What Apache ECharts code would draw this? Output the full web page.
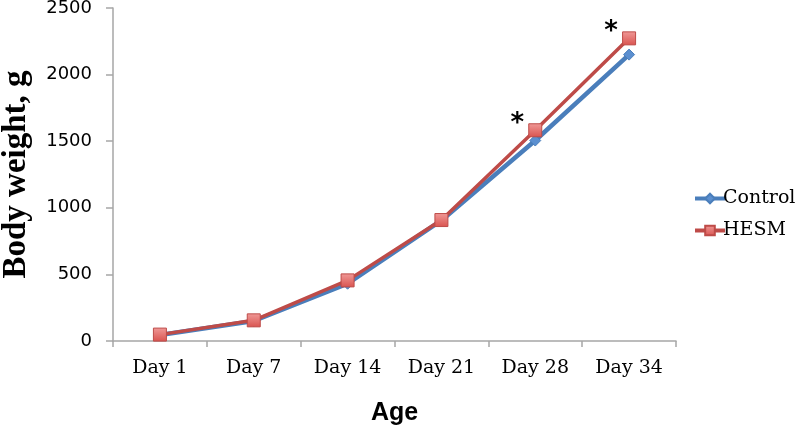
<!DOCTYPE html>
<html>
<head>
<meta charset="utf-8">
<script src="https://cdn.jsdelivr.net/npm/echarts@6/dist/echarts.min.js"></script>
<style>
html,body{margin:0;padding:0;background:#fff;}
#main{width:796px;height:427px;}
</style>
</head>
<body>
<div id="main"></div>
<script>
var categories = ['Day 1', 'Day 7', 'Day 14', 'Day 21', 'Day 28', 'Day 34'];
var controlValues = [45, 150, 430, 905, 1505, 2150];
var hesmValues = [48, 155, 455, 908, 1582, 2272];
var significant = [false, false, false, false, true, true];
var yTicks = [0, 500, 1000, 1500, 2000, 2500];

var hesmData = hesmValues.map(function (v, i) {
  return significant[i]
    ? { value: v, label: { show: true, formatter: '*', position: 'top', offset: [-18, 19],
        fontSize: 26, fontWeight: 'bold', color: '#000', fontFamily: 'DejaVu Sans' } }
    : v;
});

var chart = echarts.init(document.getElementById('main'), null, { renderer: 'canvas' });
chart.setOption({
  animation: false,
  backgroundColor: '#fff',
  grid: { left: 113, right: 120, top: 8, bottom: 86, containLabel: false, outerBoundsMode: 'none' },
  legend: {
    orient: 'vertical',
    left: 688, top: 184,
    itemWidth: 30, itemHeight: 12, itemGap: 13,
    textStyle: { fontFamily: 'DejaVu Serif', fontSize: 19, color: '#000', padding: [0, 0, 0, -7] },
    data: [
      { name: 'Control', lineStyle: { width: 4 } },
      { name: 'HESM', lineStyle: { width: 4 } }
    ]
  },
  xAxis: {
    type: 'category',
    data: categories,
    boundaryGap: true,
    name: 'Age',
    nameLocation: 'middle',
    nameGap: 60,
    nameTextStyle: { fontFamily: 'Liberation Sans', fontWeight: 'bold', fontSize: 25, color: '#000' },
    axisLine: { lineStyle: { color: '#a6a6a6', width: 1.5 } },
    axisTick: { show: true, alignWithLabel: false, length: 6, lineStyle: { color: '#a6a6a6', width: 1.5 } },
    axisLabel: { fontFamily: 'DejaVu Serif', fontSize: 19, color: '#000', margin: 18 },
    splitLine: { show: false }
  },
  yAxis: {
    type: 'value',
    min: 0, max: 2500, interval: 500,
    name: 'Body weight, g',
    nameLocation: 'middle',
    nameGap: 80,
    nameTextStyle: { fontFamily: 'Liberation Serif', fontWeight: 'bold', fontSize: 33, color: '#000' },
    axisLine: { show: true, lineStyle: { color: '#a6a6a6', width: 1.5 } },
    axisTick: { show: true, length: 7, lineStyle: { color: '#a6a6a6', width: 1.5 } },
    axisLabel: { fontFamily: 'DejaVu Sans', fontSize: 18, color: '#000', margin: 21,
      formatter: function (v) { return yTicks.indexOf(v) >= 0 ? String(v) : ''; } },
    splitLine: { show: false }
  },
  series: [
    {
      name: 'Control',
      type: 'line',
      data: controlValues,
      symbol: 'diamond',
      symbolSize: 11,
      lineStyle: { color: '#4a7ebb', width: 4.5 },
      itemStyle: { color: '#5b8fd0', borderColor: '#4a7ebb', borderWidth: 1 },
      z: 2
    },
    {
      name: 'HESM',
      type: 'line',
      data: hesmData,
      symbol: 'rect',
      symbolSize: 13,
      lineStyle: { color: '#be4b48', width: 3.5 },
      itemStyle: {
        color: new echarts.graphic.LinearGradient(0, 0, 0, 1, [
          { offset: 0, color: '#f09a98' },
          { offset: 1, color: '#d9534f' }
        ]),
        borderColor: '#be4b48', borderWidth: 1
      },
      z: 3
    }
  ]
});
</script>
</body>
</html>
